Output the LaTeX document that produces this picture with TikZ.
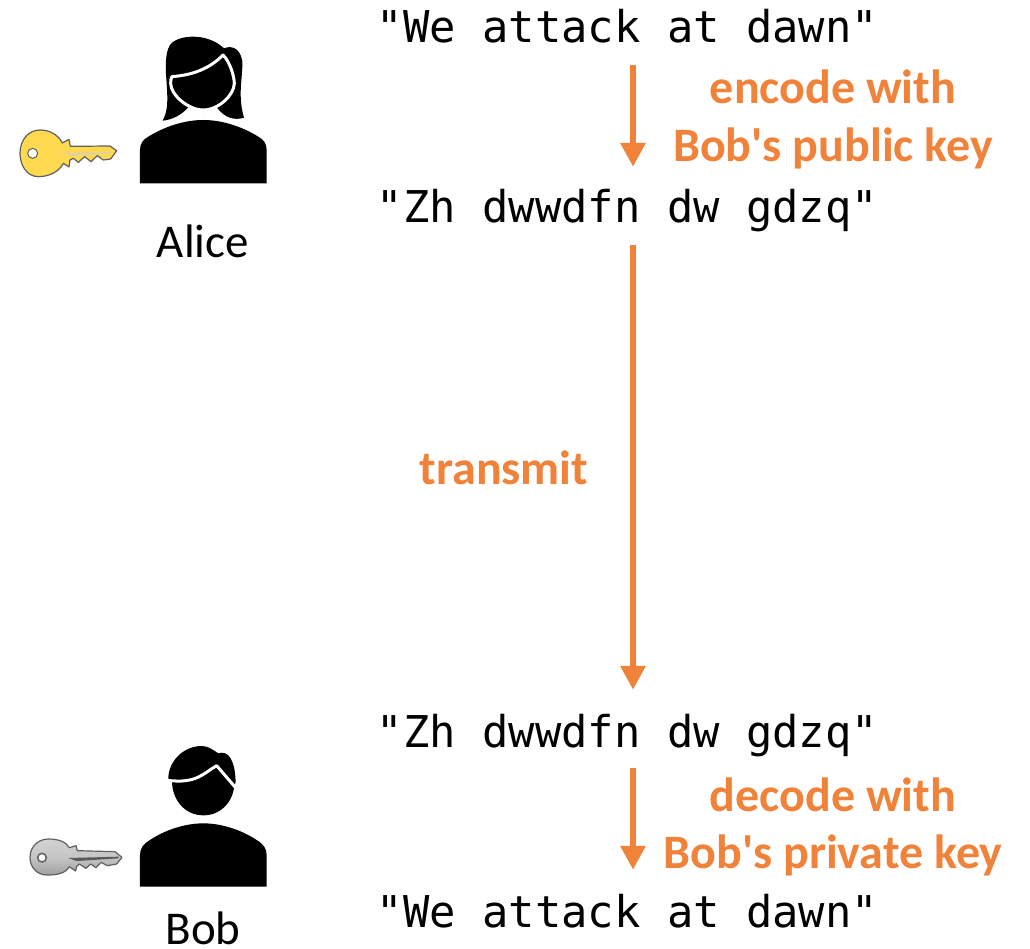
\documentclass[tikz,border=0pt]{standalone}
\usepackage{fontspec}
\newfontfamily\labelfont{Carlito}
\newfontfamily\codefont{DejaVu Sans Mono}
\usetikzlibrary{arrows.meta}
\definecolor{accent}{HTML}{F0823A}
\definecolor{keygold}{HTML}{FFD950}
\definecolor{keyedge}{HTML}{5F5F5F}
\tikzset{
  x=1pt,y=-1pt,
  codetext/.style={anchor=base,inner sep=0pt,text height=33pt,text depth=23pt,font=\codefont\fontsize{43.8}{50}\selectfont},
  steplabel/.style={anchor=base,inner sep=0pt,text=accent,font=\labelfont\fontsize{48}{50}\selectfont\bfseries},
  personname/.style={anchor=base,inner sep=0pt,font=\labelfont\fontsize{47}{50}\selectfont},
  flow/.style={draw=accent,line width=6pt,-{Triangle[width=24pt,length=24pt]}},
  figure/.style={fill=black,draw=none},
  faceline/.style={fill=black,draw=white,line width=3pt,line join=round}
}
\begin{document}
\begin{tikzpicture}
\useasboundingbox (0,0) rectangle (1030,948);
% texts
\node[codetext] (t1) at (627.5,42) {"We attack at dawn"};
\node[codetext] (t2) at (627.5,222) {"Zh dwwdfn dw gdzq"};
\node[codetext] (t3) at (627.5,747) {"Zh dwwdfn dw gdzq"};
\node[codetext] (t4) at (627.5,927) {"We attack at dawn"};
\node[steplabel] (l1a) at (833,103) {encode with};
\node[steplabel] (l1b) at (833,161) {Bob's public key};
\node[steplabel] (l2) at (504,484) {transmit};
\node[steplabel] (l3a) at (833,811) {decode with};
\node[steplabel] (l3b) at (833,868) {Bob's private key};
\node[personname] (alice) at (203,257) {Alice};
\node[personname] (bob) at (203,944) {Bob};
% connectors
\draw[flow] ([xshift=5.5pt]t1.south) -- ([xshift=5.5pt,yshift=22pt]t2.north);
\draw[flow] ([xshift=5.5pt]t2.south) -- ([xshift=5.5pt,yshift=24pt]t3.north);
\draw[flow] ([xshift=5.5pt,yshift=2pt]t3.south) -- ([xshift=5.5pt,yshift=24pt]t4.north);
% Alice
\begin{scope}[shift={(0,20)},x=0.3333pt,y=-0.3333pt]
\fill[figure] (488,302) .. controls (505,270) and (503,240) .. (500,190)
  .. controls (496,140) and (495,100) .. (510,75)
  .. controls (530,45) and (620,35) .. (672,85)
  .. controls (695,75) and (722,85) .. (727,125)
  .. controls (729,170) and (712,225) .. (732,293)
  .. controls (705,302) and (675,295) .. (650,262)
  -- (565,262) .. controls (545,285) and (515,300) .. (488,302) -- cycle;
\filldraw[faceline] (516,170) .. controls (580,165) and (630,145) .. (669,105)
  .. controls (690,125) and (703,170) .. (703,190)
  .. controls (703,225) and (655,270) .. (610,270)
  .. controls (565,270) and (512,225) .. (512,190)
  .. controls (512,180) and (513,175) .. (516,170) -- cycle;
\fill[figure] (420,490) -- (420,390) .. controls (420,370) and (430,358) .. (445,350)
  .. controls (490,322) and (550,300) .. (610,300)
  .. controls (670,300) and (730,322) .. (775,350)
  .. controls (790,358) and (800,370) .. (800,390) -- (800,490) -- cycle;
\end{scope}
% Bob
\begin{scope}[shift={(0,730)},x=0.3333pt,y=-0.3333pt]
\fill[figure] (505,150) .. controls (503,95) and (550,48) .. (605,48)
  .. controls (625,48) and (640,60) .. (655,70)
  .. controls (685,60) and (705,90) .. (707,155)
  -- (702,175) .. controls (695,220) and (660,256) .. (610,256)
  .. controls (555,256) and (516,210) .. (516,152) -- cycle;
\draw[white,line width=3pt,line join=round] (502,151) .. controls (590,162) and (610,130) .. (650,107) -- (706,172);
\fill[figure] (420,470) -- (420,375) .. controls (420,355) and (430,342) .. (450,330)
  .. controls (495,300) and (555,280) .. (610,280)
  .. controls (665,280) and (725,300) .. (770,330)
  .. controls (790,342) and (800,355) .. (800,375) -- (800,470) -- cycle;
\end{scope}
% gold key
\begin{scope}[shift={(10,120)},x=0.3333pt,y=-0.3333pt]
\fill[keygold,draw=keyedge,line width=1.2pt,line join=round]
  (157,69) -- (177,58) -- (181,79) -- (300,78) -- (320,92) -- (302,117) -- (280,120)
  -- (262,107) -- (243,125) -- (224,110) -- (205,127) -- (190,115) -- (180,120) -- (177,141) -- (160,130)
  .. controls (145,160) and (110,170) .. (85,170)
  .. controls (50,170) and (30,135) .. (30,100)
  .. controls (30,60) and (55,30) .. (90,30)
  .. controls (120,30) and (145,45) .. (157,69) -- cycle;
\fill[white,draw=keyedge,line width=1pt] (68,100) circle[radius=15];
\fill[keygold!60!gray!60!white] (150,99) -- (305,96) -- (305,100) -- (190,108) -- cycle;
\end{scope}
% silver key
\begin{scope}[shift={(20,825)},x=0.3333pt,y=-0.3333pt]
\draw[keyedge,line width=1.2pt,line join=round,top color=gray!35,bottom color=gray!75,middle color=gray!45]
  (148,68) -- (168,62) -- (172,77) -- (285,80) -- (306,97) -- (290,117) -- (262,122)
  -- (243,112) -- (228,128) -- (212,117) -- (198,130) -- (178,117) -- (170,124) -- (167,138) -- (148,125)
  .. controls (135,148) and (105,150) .. (80,150)
  .. controls (50,150) and (30,125) .. (30,97)
  .. controls (30,65) and (55,42) .. (85,42)
  .. controls (115,42) and (138,50) .. (148,68) -- cycle;
\fill[white,draw=keyedge,line width=1.5pt] (66,98) circle[radius=13];
\fill[gray!70!black] (145,99) -- (296,95) -- (296,100) -- (170,108) -- cycle;
\end{scope}
\end{tikzpicture}
\end{document}
